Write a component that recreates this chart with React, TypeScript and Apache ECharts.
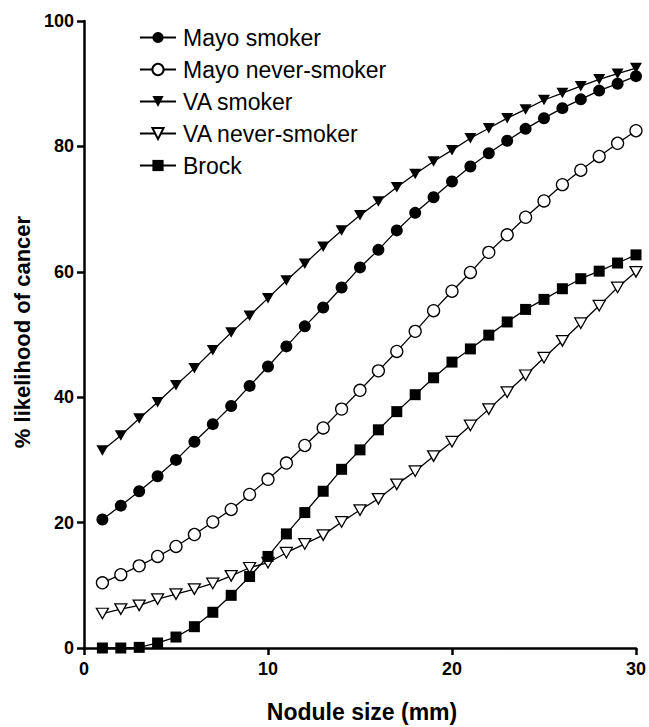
import React, { useEffect, useRef } from "react";
import * as echarts from "echarts";

const sizes = [1, 2, 3, 4, 5, 6, 7, 8, 9, 10, 11, 12, 13, 14, 15, 16, 17, 18, 19, 20, 21, 22, 23, 24, 25, 26, 27, 28, 29, 30];

const mayoSmoker = [20.5, 22.7, 25.0, 27.4, 30.0, 32.9, 35.7, 38.6, 41.8, 44.9, 48.1, 51.3, 54.3, 57.5, 60.7, 63.5, 66.6, 69.4, 71.9, 74.4, 76.8, 78.9, 80.9, 82.8, 84.5, 86.1, 87.5, 88.9, 90.0, 91.2];
const mayoNever = [10.4, 11.7, 13.1, 14.6, 16.2, 18.1, 20.1, 22.1, 24.5, 26.9, 29.5, 32.3, 35.1, 38.1, 41.1, 44.2, 47.3, 50.5, 53.8, 56.9, 59.9, 63.1, 65.9, 68.7, 71.3, 73.9, 76.2, 78.4, 80.5, 82.5];
const vaSmoker = [31.5, 33.9, 36.6, 39.2, 41.9, 44.6, 47.5, 50.3, 53.0, 55.8, 58.6, 61.3, 64.0, 66.6, 69.0, 71.2, 73.5, 75.6, 77.6, 79.4, 81.3, 82.9, 84.5, 85.9, 87.4, 88.5, 89.6, 90.7, 91.6, 92.5];
const vaNever = [5.5, 6.2, 6.8, 7.8, 8.6, 9.4, 10.3, 11.5, 12.8, 13.6, 15.2, 16.6, 18.0, 20.1, 22.0, 23.8, 26.1, 28.2, 30.6, 32.9, 35.5, 38.1, 40.8, 43.5, 46.3, 49.0, 51.8, 54.6, 57.5, 60.0];
const brock = [0.0, 0.0, 0.1, 0.8, 1.75, 3.4, 5.7, 8.4, 11.4, 14.6, 18.2, 21.6, 25.0, 28.5, 31.6, 34.8, 37.7, 40.4, 43.1, 45.6, 47.7, 49.9, 52.0, 54.0, 55.6, 57.3, 58.9, 60.1, 61.4, 62.7];

const seriesNames = ["Mayo smoker", "Mayo never-smoker", "VA smoker", "VA never-smoker", "Brock"];
const xTicks = [0, 10, 20, 30];
const yTicks = [0, 20, 40, 60, 80, 100];

const FONT = "'Liberation Sans', Arial, sans-serif";
const TRI_DOWN = "path://M0,0 L12,0 L6,10.4 Z";

export default function App() {
  const ref = useRef<HTMLDivElement>(null);
  useEffect(() => {
    if (!ref.current) return;
    const chart = echarts.init(ref.current, undefined, { renderer: "svg" });
    const pair = (vals: number[]) => sizes.map((s, i) => [s, vals[i]]);
    const mk = (name: string, vals: number[], symbol: string, filled: boolean, size: any) => ({
      name,
      type: "line",
      data: pair(vals),
      symbol,
      symbolSize: size,
      showAllSymbol: true,
      lineStyle: { color: "#000", width: 1.3 },
      itemStyle: {
        color: filled ? "#000" : "#fff",
        borderColor: "#000",
        borderWidth: filled ? 0 : 1.3,
      },
      emphasis: { disabled: true },
      z: 3,
    });
    chart.setOption({
      animation: false,
      backgroundColor: "#fff",
      grid: { left: 84, right: 13, top: 21, bottom: 79, containLabel: false },
      legend: {
        data: seriesNames,
        orient: "vertical",
        left: 134,
        top: 21,
        itemWidth: 36,
        itemHeight: 14,
        itemGap: 9,
        selectedMode: false,
        textStyle: { fontFamily: FONT, fontSize: 23, color: "#000", lineHeight: 23, padding: [0, 0, 0, 2] },
      },
      xAxis: {
        type: "value",
        min: 0,
        max: 30,
        interval: 10,
        axisLine: { show: true, onZero: false, lineStyle: { color: "#000", width: 2.5 } },
        axisTick: { show: true, length: 7, lineStyle: { color: "#000", width: 2.5 } },
        axisLabel: {
          fontFamily: FONT,
          fontSize: 18,
          fontWeight: "bold",
          color: "#000",
          margin: 12,
          formatter: (v: number) => (xTicks.includes(v) ? String(v) : ""),
        },
        splitLine: { show: false },
      },
      yAxis: {
        type: "value",
        min: 0,
        max: 100,
        interval: 20,
        axisLine: { show: true, onZero: false, lineStyle: { color: "#000", width: 2.5 } },
        axisTick: { show: true, length: 7, lineStyle: { color: "#000", width: 2.5 } },
        axisLabel: {
          fontFamily: FONT,
          fontSize: 18,
          fontWeight: "bold",
          color: "#000",
          margin: 10,
          formatter: (v: number) => (yTicks.includes(v) ? String(v) : ""),
        },
        splitLine: { show: false },
      },
      graphic: [
        {
          type: "text",
          x: 22,
          y: 332,
          rotation: Math.PI / 2,
          style: {
            text: "% likelihood of cancer",
            font: `bold 22px ${FONT}`,
            fill: "#000",
            align: "center",
            verticalAlign: "middle",
          },
        },
        {
          type: "text",
          x: 362,
          y: 712,
          style: {
            text: "Nodule size (mm)",
            font: `bold 23px ${FONT}`,
            fill: "#000",
            align: "center",
            verticalAlign: "middle",
          },
        },
      ],
      series: [
        mk(seriesNames[0], mayoSmoker, "circle", true, 12),
        mk(seriesNames[1], mayoNever, "circle", false, 12),
        mk(seriesNames[2], vaSmoker, TRI_DOWN, true, [12, 10.5]),
        mk(seriesNames[3], vaNever, TRI_DOWN, false, [12, 10.5]),
        mk(seriesNames[4], brock, "rect", true, 11),
      ],
    });
    return () => chart.dispose();
  }, []);
  return <div ref={ref} style={{ width: 649, height: 727, position: "absolute", left: 0, top: 0 }} />;
}
